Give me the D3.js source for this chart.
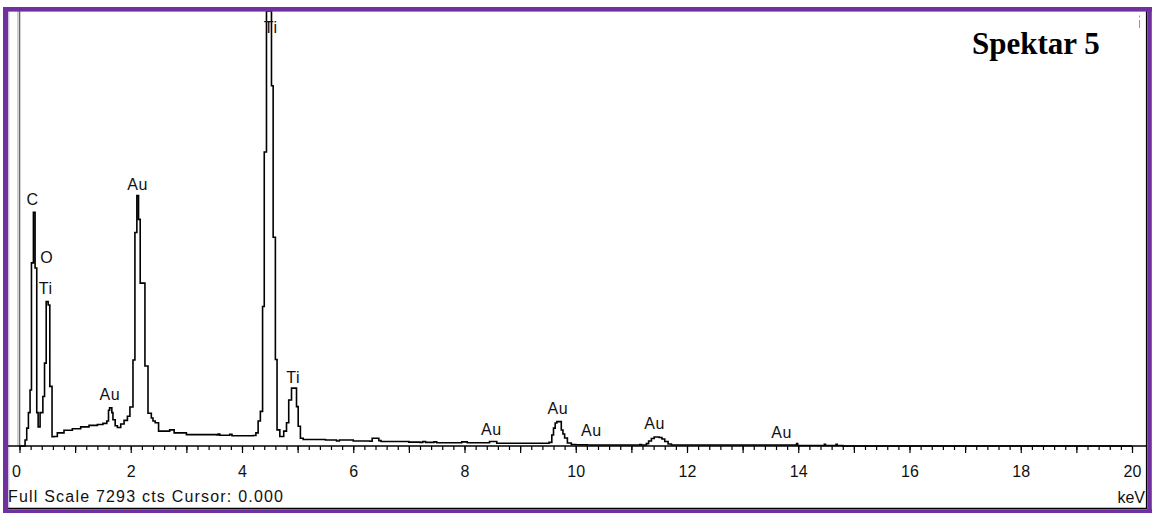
<!DOCTYPE html>
<html><head><meta charset="utf-8">
<script src="https://cdn.jsdelivr.net/npm/d3@7"></script>
<style>html,body{margin:0;padding:0;background:#fff;}svg{display:block;}</style>
</head><body>
<svg id="c" width="1153" height="513"></svg>
<script>
// ---- data (keV, counts) ----
const energy = [0.00,0.08,0.10,0.13,0.16,0.19,0.215,0.25,0.28,0.31,0.335,0.37,0.42,0.45,0.48,0.515,0.545,0.585,
  0.62,0.68,0.80,0.95,1.10,1.25,1.40,1.50,
  1.57,1.60,1.62,1.66,1.68,1.72,1.76,1.82,1.88,1.94,1.985,2.04,2.075,2.11,2.14,2.17,2.255,2.31,2.37,2.40,2.44,2.50,2.70,2.78,3.00,3.55,3.57,3.60,3.78,3.82,4.20,4.25,4.29,
  4.33,4.37,4.40,4.44,4.53,4.56,4.60,4.63,4.68,4.75,4.80,4.84,4.89,4.98,5.01,5.05,5.10,5.50,5.70,5.75,6.00,6.30,6.34,6.46,6.50,
  7.00,7.20,7.25,7.30,7.45,7.50,7.95,8.05,8.45,8.58,9.52,9.57,9.60,9.63,9.66,9.74,9.77,9.80,9.85,9.92,10.00,10.20,
  11.15,11.18,11.27,11.31,11.36,11.41,11.50,11.55,11.60,11.66,11.72,13.95,13.97,13.99,14.47,14.49,14.68,14.70,14.80,20.00];
const counts = [0,0,100,300,560,940,3070,3920,2985,560,320,560,830,1390,2420,2365,1000,156,
  160,220,265,290,320,345,360,380,
  420,600,640,560,440,340,310,370,430,500,654,1442,3580,4200,3800,2730,1340,550,470,420,390,250,270,220,190,185,200,180,195,172,175,220,420,
  580,2340,4930,7293,6040,3500,1450,270,160,250,390,770,970,660,330,130,110,100,85,100,85,80,130,90,75,
  65,60,75,60,70,55,70,55,75,45,60,185,300,386,408,269,200,134,50,25,20,18,
  25,18,40,84,126,151,143,118,76,34,16,16,40,8,30,8,30,8,0,0];

const peakLabels = ["C","O","Ti","Au","Au","Ti","Ti","Au","Au","Au","Au","Au"];
const labelEnergy = [0.235,0.49,0.47,1.625,2.125,4.515,4.92,8.485,9.68,10.28,11.42,13.70];
const labelCounts = [4040,3060,2550,770,4290,6930,1050,185,535,170,280,135];

const tickValues = [0,2,4,6,8,10,12,14,16,18,20];
const fullScale = 7293;

// ---- layout ----
const svg = d3.select("#c");
const x = d3.scaleLinear().domain([0,20]).range([19.5,1132]);
const y = d3.scaleLinear().domain([0,fullScale]).range([446,11]);
const purple = "#7030a0";

svg.append("rect").attr("x",0).attr("y",0).attr("width",1153).attr("height",513).attr("fill","#fff");

// light strips at left
svg.append("line").attr("x1",9).attr("x2",9).attr("y1",11).attr("y2",509).attr("stroke","#d8d8d8").attr("stroke-width",1);
svg.append("line").attr("x1",17.5).attr("x2",17.5).attr("y1",11).attr("y2",446).attr("stroke","#cfcfcf").attr("stroke-width",1);
svg.append("line").attr("x1",x(0)).attr("x2",x(0)).attr("y1",11).attr("y2",446).attr("stroke","#6a6a6a").attr("stroke-width",1.6);

// spectrum
svg.append("defs").append("clipPath").attr("id","pc").append("rect")
  .attr("x",8).attr("y",11).attr("width",1138).attr("height",436);
const pts = energy.map((e,i)=>[e,counts[i]]);
svg.append("path").datum(pts)
  .attr("clip-path","url(#pc)")
  .attr("d", d3.line().x(d=>x(d[0])).y(d=>y(d[1])).curve(d3.curveStepAfter))
  .attr("fill","none").attr("stroke","#000").attr("stroke-width",1.6).attr("stroke-linejoin","miter");

// axis line
svg.append("line").attr("x1",8).attr("x2",1146).attr("y1",446).attr("y2",446).attr("stroke","#000").attr("stroke-width",1.3);

// minor ticks
const minorAxis = d3.axisBottom(x).tickValues(d3.range(0,101).map(i=>i*0.2)).tickSize(4).tickFormat("");
const gMin = svg.append("g").attr("transform","translate(0,446)").call(minorAxis);
gMin.select(".domain").remove();
gMin.selectAll("line").attr("stroke","#000").attr("stroke-width",1.2);
// major ticks
const majorAxis = d3.axisBottom(x).tickValues(d3.range(0,21)).tickSize(7).tickFormat("");
const gMaj = svg.append("g").attr("transform","translate(0,446)").call(majorAxis);
gMaj.select(".domain").remove();
gMaj.selectAll("line").attr("stroke","#000").attr("stroke-width",1.2);

// tick labels
const labAxis = d3.axisBottom(x).tickValues(tickValues).tickSize(0).tickPadding(0).tickFormat(d3.format("d"));
const gLab = svg.append("g").attr("transform","translate(0,446)").call(labAxis);
gLab.select(".domain").remove();
gLab.selectAll("text").attr("y",31).attr("dy",0)
  .attr("font-family","Liberation Sans, Arial, sans-serif").attr("font-size",16).attr("fill","#111")
  .attr("text-anchor",d=>d===0?"end":"middle")
  .attr("dx",d=>d===0?1:0);

// peak labels
svg.append("g").selectAll("text").data(peakLabels).join("text")
  .attr("x",(d,i)=>x(labelEnergy[i])).attr("y",(d,i)=>y(labelCounts[i]))
  .attr("text-anchor","middle")
  .attr("font-family","Liberation Sans, Arial, sans-serif").attr("font-size",16)
  .attr("letter-spacing",0.6).attr("fill","#111").text(d=>d);

// bottom text
svg.append("text").attr("x",8).attr("y",502).attr("font-family","Liberation Sans, Arial, sans-serif")
  .attr("font-size",16).attr("fill","#111").attr("textLength",275).attr("lengthAdjust","spacing")
  .text("Full Scale " + fullScale + " cts Cursor: 0.000");
svg.append("text").attr("x",1145).attr("y",503).attr("text-anchor","end")
  .attr("font-family","Liberation Sans, Arial, sans-serif").attr("font-size",16).attr("fill","#111").text("keV");

// title
svg.append("text").attr("x",972).attr("y",54).attr("font-family","Liberation Serif, Times New Roman, serif")
  .attr("font-weight","bold").attr("font-size",31).attr("fill","#000").text("Spektar 5");

// small marker top right
svg.append("line").attr("x1",1139.5).attr("x2",1139.5).attr("y1",20).attr("y2",28).attr("stroke","#999").attr("stroke-width",1);
svg.append("rect").attr("x",1139).attr("y",15.5).attr("width",1).attr("height",2).attr("fill","#999");

// panel shadow border (right & bottom)
svg.append("line").attr("x1",1146.5).attr("x2",1146.5).attr("y1",11).attr("y2",509).attr("stroke","#000").attr("stroke-width",1.2);
svg.append("line").attr("x1",8).attr("x2",1147).attr("y1",508.3).attr("y2",508.3).attr("stroke","#000").attr("stroke-width",1.2);

// purple frame
svg.append("rect").attr("x",3).attr("y",7).attr("width",1149).attr("height",4.6).attr("fill",purple);
svg.append("rect").attr("x",3).attr("y",7).attr("width",5.2).attr("height",506).attr("fill",purple);
svg.append("rect").attr("x",1147.2).attr("y",7).attr("width",4.6).attr("height",506).attr("fill",purple);
svg.append("rect").attr("x",3).attr("y",509.2).attr("width",1149).attr("height",4).attr("fill",purple);
</script>
</body></html>
